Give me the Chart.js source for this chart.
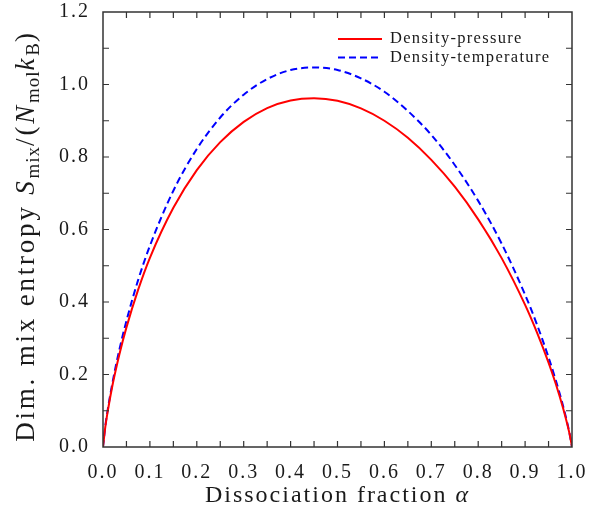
<!DOCTYPE html>
<html lang="en">
<head>
<meta charset="UTF-8">
<title>Mixing entropy</title>
<script src="https://cdn.jsdelivr.net/npm/chart.js"></script>
<style>
  html, body { margin: 0; padding: 0; background: #fff; overflow: hidden; }
  #wrap { width: 592px; height: 513px; }
</style>
</head>
<body>
<div id="wrap"><canvas id="entropyChart"></canvas></div>
<script>
// dissociation fraction (x) and the two curves
const alpha = [0, 0.005, 0.01, 0.02, 0.035, 0.05, 0.075, 0.1, 0.15, 0.2, 0.25, 0.3, 0.35, 0.4, 0.45,
  0.5, 0.55, 0.6, 0.65, 0.7, 0.75, 0.8, 0.85, 0.9, 0.925, 0.95, 0.965, 0.98, 0.99, 0.995, 1.0];
const densityPressure = [0, 0.056, 0.098, 0.169, 0.256, 0.330, 0.434, 0.522, 0.660, 0.764, 0.841, 0.897, 0.935, 0.956, 0.962,
  0.955, 0.934, 0.900, 0.853, 0.792, 0.718, 0.628, 0.521, 0.392, 0.317, 0.233, 0.176, 0.112, 0.063, 0.035, 0];
const densityTemperature = [0, 0.058, 0.102, 0.176, 0.269, 0.348, 0.461, 0.555, 0.707, 0.822, 0.909, 0.972, 1.015, 1.040, 1.047,
  1.040, 1.017, 0.980, 0.927, 0.861, 0.778, 0.679, 0.561, 0.420, 0.339, 0.247, 0.186, 0.118, 0.066, 0.036, 0];
const seriesNames = ['Density-pressure', 'Density-temperature'];
const xTickValues = [0, 0.1, 0.2, 0.3, 0.4, 0.5, 0.6, 0.7, 0.8, 0.9, 1.0];
const yTickValues = [0, 0.2, 0.4, 0.6, 0.8, 1.0, 1.2];

const serif = "'Liberation Serif', 'DejaVu Serif', serif";
const ink = '#1a1a1a';

// wider letter spacing for the tick labels (computer modern look)
const spacingPlugin = {
  id: 'spacing',
  beforeDraw(chart) { chart.ctx.letterSpacing = '2px'; },
  beforeDatasetsDraw(chart) { chart.ctx.letterSpacing = '0px'; }
};

// box frame with inward ticks on all four sides
const framePlugin = {
  id: 'frame',
  afterDraw(chart) {
    const { ctx, chartArea: a, scales: { x, y } } = chart;
    const tl = 6;
    ctx.save();
    ctx.strokeStyle = '#333';
    ctx.lineWidth = 1.5;
    ctx.strokeRect(a.left, a.top, a.right - a.left, a.bottom - a.top);
    ctx.lineWidth = 1.2;
    ctx.beginPath();
    for (let v = 0.05; v < 1; v += 0.05) {
      const px = x.getPixelForValue(v);
      ctx.moveTo(px, a.bottom); ctx.lineTo(px, a.bottom - tl);
      ctx.moveTo(px, a.top); ctx.lineTo(px, a.top + tl);
    }
    for (let v = 0.1; v < 1.2; v += 0.1) {
      const py = y.getPixelForValue(v);
      ctx.moveTo(a.left, py); ctx.lineTo(a.left + tl, py);
      ctx.moveTo(a.right, py); ctx.lineTo(a.right - tl, py);
    }
    ctx.stroke();
    ctx.restore();
  }
};

// axis titles with italics and subscripts
const titlePlugin = {
  id: 'titles',
  afterDraw(chart) {
    const { ctx, chartArea: a } = chart;
    const size = 27, sub = 19;
    const parts = [
      { t: 'Dim. mix entropy ', s: 'normal' },
      { t: 'S', s: 'italic' },
      { t: 'mix', s: 'sub' },
      { t: '/(', s: 'normal' },
      { t: 'N', s: 'italic' },
      { t: 'mol', s: 'sub' },
      { t: 'k', s: 'italic' },
      { t: 'B', s: 'sub' },
      { t: ')', s: 'normal' }
    ];
    const fontOf = p => p.s === 'italic' ? `italic ${size}px ${serif}` :
      p.s === 'sub' ? `${sub}px ${serif}` : `${size}px ${serif}`;
    const spacingOf = p => p.s === 'sub' ? '1px' : '2.8px';
    ctx.save();
    ctx.fillStyle = ink;
    ctx.textBaseline = 'alphabetic';
    let total = 0;
    parts.forEach(p => {
      ctx.font = fontOf(p);
      ctx.letterSpacing = spacingOf(p);
      p.w = ctx.measureText(p.t).width;
      total += p.w;
    });
    ctx.translate(34, 236);
    ctx.rotate(-Math.PI / 2);
    let cx = -total / 2;
    parts.forEach(p => {
      ctx.font = fontOf(p);
      ctx.letterSpacing = spacingOf(p);
      ctx.fillText(p.t, cx, p.s === 'sub' ? 5 : 0);
      cx += p.w;
    });
    ctx.restore();

    // x title
    ctx.save();
    ctx.fillStyle = ink;
    ctx.letterSpacing = '2px';
    const xs = 24;
    ctx.font = `${xs}px ${serif}`;
    const t1 = 'Dissociation fraction ';
    const w1 = ctx.measureText(t1).width;
    ctx.font = `italic ${xs}px ${serif}`;
    const w2 = ctx.measureText('\u03b1').width;
    let sx = (a.left + a.right) / 2 - (w1 + w2) / 2;
    ctx.font = `${xs}px ${serif}`;
    ctx.fillText(t1, sx, 502);
    ctx.font = `italic ${xs}px ${serif}`;
    ctx.fillText('\u03b1', sx + w1, 502);
    ctx.restore();
  }
};

// legend in the upper right corner of the plot
const legendPlugin = {
  id: 'cornerLegend',
  afterDatasetsDraw(chart) {
    const { ctx } = chart;
    ctx.save();
    ctx.font = `16.5px ${serif}`;
    ctx.letterSpacing = '1.3px';
    ctx.fillStyle = ink;
    ctx.textBaseline = 'middle';
    chart.data.datasets.forEach((ds, i) => {
      const yy = 39 + i * 18.5;
      ctx.strokeStyle = ds.borderColor;
      ctx.lineWidth = ds.borderWidth;
      ctx.setLineDash(ds.borderDash || []);
      ctx.beginPath();
      ctx.moveTo(338, yy); ctx.lineTo(382, yy);
      ctx.stroke();
      ctx.setLineDash([]);
      ctx.fillText(ds.label, 390, yy);
    });
    ctx.restore();
  }
};

new Chart(document.getElementById('entropyChart'), {
  type: 'line',
  data: {
    datasets: [{
      label: seriesNames[0],
      data: alpha.map((a, i) => ({ x: a, y: densityPressure[i] })),
      borderColor: '#ff0000',
      borderWidth: 2,
      pointRadius: 0,
      cubicInterpolationMode: 'monotone',
      fill: false
    }, {
      label: seriesNames[1],
      data: alpha.map((a, i) => ({ x: a, y: densityTemperature[i] })),
      borderColor: '#0000ff',
      borderWidth: 2,
      borderDash: [7, 4],
      pointRadius: 0,
      cubicInterpolationMode: 'monotone',
      fill: false
    }]
  },
  options: {
    responsive: true,
    maintainAspectRatio: false,
    animation: false,
    layout: { padding: { top: 12, right: 20, left: 0, bottom: 0 } },
    plugins: { legend: { display: false }, tooltip: { enabled: false } },
    scales: {
      x: {
        type: 'linear',
        min: 0,
        max: 1,
        afterFit: s => { s.height = 66; s.paddingLeft = 0; s.paddingRight = 0; },
        afterBuildTicks: s => { s.ticks = xTickValues.map(v => ({ value: v })); },
        grid: { display: false, drawTicks: false },
        border: { display: false },
        ticks: {
          padding: 14,
          maxRotation: 0,
          color: ink,
          font: { family: serif, size: 20 },
          callback: v => v.toFixed(1)
        }
      },
      y: {
        min: 0,
        max: 1.2,
        afterFit: s => { s.width = 103; s.paddingTop = 0; s.paddingBottom = 0; },
        afterBuildTicks: s => { s.ticks = yTickValues.map(v => ({ value: v })); },
        grid: { display: false, drawTicks: false },
        border: { display: false },
        ticks: {
          padding: 13,
          color: ink,
          font: { family: serif, size: 20 },
          callback: v => v.toFixed(1)
        }
      }
    }
  },
  plugins: [spacingPlugin, framePlugin, titlePlugin, legendPlugin]
});
</script>
</body>
</html>
